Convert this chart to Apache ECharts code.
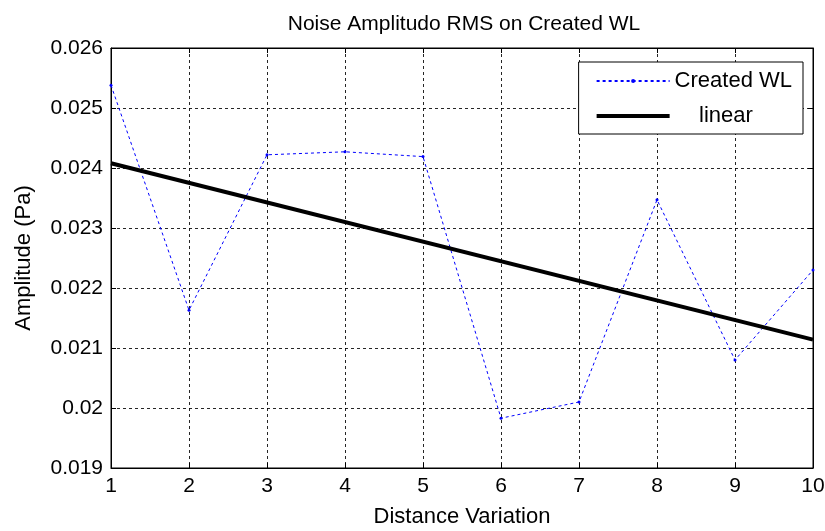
<!DOCTYPE html>
<html><head><meta charset="utf-8">
<script src="https://cdn.jsdelivr.net/npm/echarts@6/dist/echarts.min.js"></script>
<style>html,body{margin:0;padding:0;background:#fff}#c{width:825px;height:531px}</style>
</head><body><div id="c"></div>
<script>
const xValues = [1, 2, 3, 4, 5, 6, 7, 8, 9, 10];
const createdWL = [0.02538, 0.02163, 0.02422, 0.02427, 0.02419, 0.01983, 0.02010, 0.02347, 0.02080, 0.02230];
const linearX = [1, 10];
const linearY = [0.02408, 0.02114];
const yTicks = { min: 0.019, max: 0.026, interval: 0.001 };
const xTicks = { min: 1, max: 10, interval: 1 };

const font = 'Liberation Sans, Arial, sans-serif';
const chart = echarts.init(document.getElementById('c'), null, {renderer: 'canvas'});
const gridLine = {show: true, lineStyle: {color: '#000', type: [3, 3], width: 1, opacity: 0.85}};
chart.setOption({
  animation: false,
  backgroundColor: '#fff',
  title: {text: 'Noise Amplitudo RMS on Created WL', left: 459, top: 9, textAlign: 'center',
    textStyle: {fontFamily: font, fontSize: 21, fontWeight: 'normal', color: '#000'}},
  grid: {left: 111, right: 12, top: 48, bottom: 63, show: true, borderColor: '#000', borderWidth: 1,
    containLabel: false, outerBoundsMode: 'none'},
  legend: {
    right: 22, top: 62, orient: 'vertical', backgroundColor: '#fff', borderColor: '#000', borderWidth: 1,
    borderRadius: 0,
    padding: [8, 11, 7, 16], itemGap: 13, itemWidth: 73, itemHeight: 5,
    textStyle: {fontFamily: font, fontSize: 22, color: '#000'},
    formatter: name => name === 'linear' ? '    linear' : name,
    data: [
      {name: 'Created WL'},
      {name: 'linear', itemStyle: {color: 'rgba(0,0,0,0)', borderWidth: 0}, lineStyle: {width: 4, color: '#000'}}
    ]
  },
  xAxis: [{
    type: 'value', min: xTicks.min, max: xTicks.max, interval: xTicks.interval,
    name: 'Distance Variation', nameLocation: 'middle', nameGap: 38,
    nameTextStyle: {fontFamily: font, fontSize: 22, color: '#000'},
    axisLine: {lineStyle: {color: '#000'}},
    axisTick: {inside: true, length: 5, lineStyle: {color: '#000'}},
    axisLabel: {fontFamily: font, fontSize: 21, color: '#000', margin: 8},
    splitLine: gridLine
  }, {
    type: 'value', position: 'top', min: xTicks.min, max: xTicks.max, interval: xTicks.interval,
    axisLine: {show: true, lineStyle: {color: '#000'}},
    axisTick: {inside: true, length: 5, lineStyle: {color: '#000'}},
    axisLabel: {show: false}, splitLine: {show: false}
  }],
  yAxis: [{
    type: 'value', min: yTicks.min, max: yTicks.max, interval: yTicks.interval,
    name: 'Amplitude (Pa)', nameLocation: 'middle', nameGap: 76,
    nameTextStyle: {fontFamily: font, fontSize: 22, color: '#000'},
    axisLine: {show: true, lineStyle: {color: '#000'}},
    axisTick: {show: true, inside: true, length: 5, lineStyle: {color: '#000'}},
    axisLabel: {fontFamily: font, fontSize: 21, color: '#000', margin: 8,
      formatter: v => String(parseFloat(v.toFixed(4)))},
    splitLine: gridLine
  }, {
    type: 'value', position: 'right', min: yTicks.min, max: yTicks.max, interval: yTicks.interval,
    axisLine: {show: true, lineStyle: {color: '#000'}},
    axisTick: {show: true, inside: true, length: 5, lineStyle: {color: '#000'}},
    axisLabel: {show: false}, splitLine: {show: false}
  }],
  series: [{
    name: 'Created WL', type: 'line',
    data: xValues.map((x, i) => [x, createdWL[i]]),
    symbol: 'circle', symbolSize: 3, showSymbol: true,
    itemStyle: {color: '#0000ff'},
    lineStyle: {color: '#0000ff', width: 1, type: [3, 3]},
    z: 3
  }, {
    name: 'linear', type: 'line',
    data: linearX.map((x, i) => [x, linearY[i]]),
    symbol: 'none',
    itemStyle: {color: '#000'},
    lineStyle: {color: '#000', width: 4},
    z: 4
  }]
});
</script></body></html>
